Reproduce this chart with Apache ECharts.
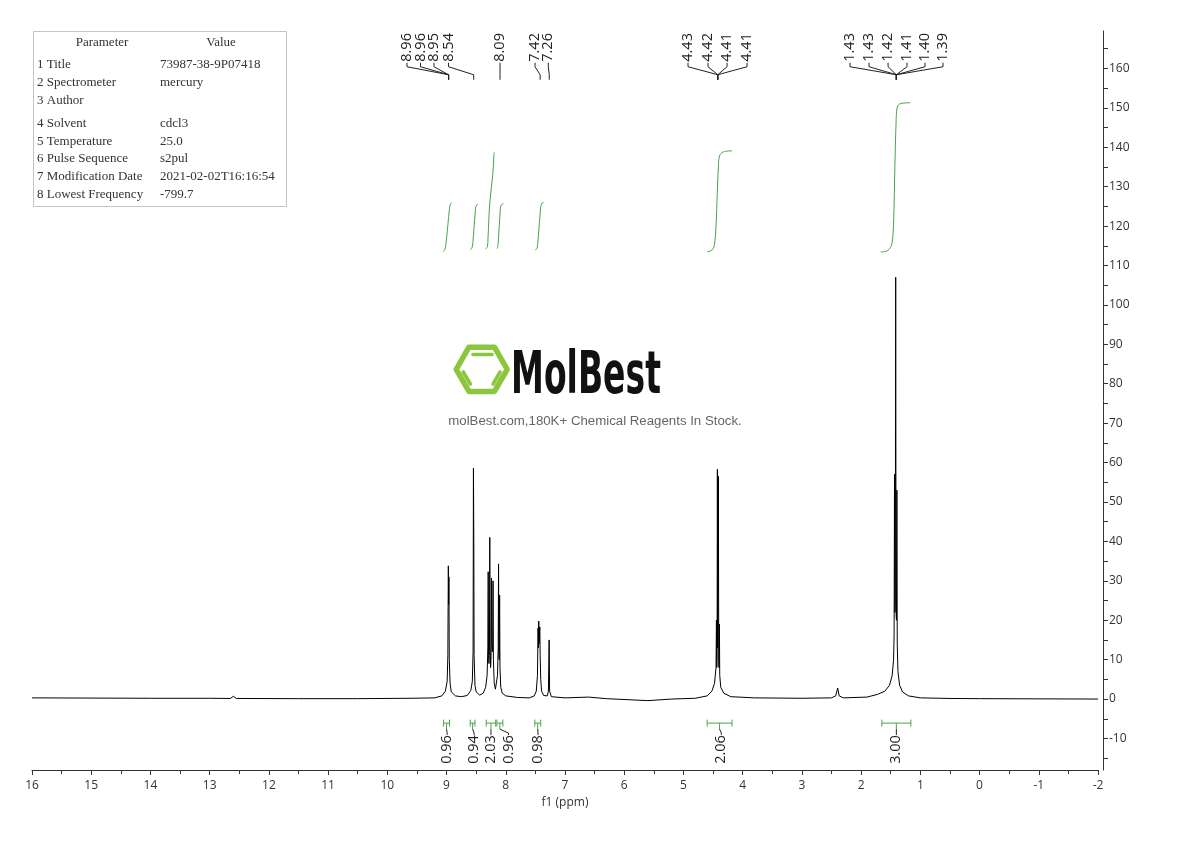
<!DOCTYPE html>
<html><head><meta charset="utf-8">
<script src="https://cdn.jsdelivr.net/npm/echarts@6/dist/echarts.min.js"></script>
<style>html,body{margin:0;padding:0;background:#fff}#c{width:1190px;height:841px}</style>
</head><body><div id="c"></div>
<script>
// ---------------- DATA ----------------
const spectrum = [
[16.00,0.3],[15.0,0.25],[14.0,0.2],[13.0,0.2],[12.65,0.15],[12.6,0.7],[12.55,0.15],[11.5,0.1],[10.5,0.1],[9.6,0.2],[9.2,0.3],
[9.08,0.8],[9.02,2.0],[8.99,4.5],[8.978,11],[8.970,33.8],[8.965,24],[8.960,31],[8.954,10],[8.94,4],[8.92,1.8],[8.85,0.8],[8.75,0.6],
[8.65,0.9],[8.59,2.2],[8.565,4.5],[8.552,12],[8.546,58.6],[8.54,40],[8.535,11],[8.52,3.5],[8.50,1.8],[8.44,1.0],[8.38,1.5],
[8.34,3.0],[8.315,6],[8.303,13],[8.297,32.3],[8.291,11],[8.284,9],[8.276,12],[8.27,41],[8.264,13],[8.256,8],[8.248,11],[8.242,30.7],
[8.236,14],[8.228,12],[8.221,14],[8.215,30.0],[8.209,10],[8.195,4],[8.175,2.5],[8.155,2.8],[8.14,6],[8.128,13],[8.122,34.3],
[8.116,11],[8.11,10],[8.104,26.4],[8.098,8],[8.085,3],[8.06,1.5],[8.0,0.8],[7.8,0.4],[7.6,0.3],[7.52,0.8],[7.485,2],[7.465,6],
[7.455,18],[7.449,13],[7.443,19.8],[7.437,14],[7.431,17],[7.425,18.3],[7.419,11],[7.41,5],[7.395,2],[7.36,0.9],[7.30,0.8],
[7.28,2.0],[7.268,15],[7.26,2.0],[7.23,0.6],[7.0,0.3],[6.6,0.5],[6.3,0.1],[5.6,-0.4],[5.2,0.0],[4.8,0.2],[4.6,0.8],[4.52,2.0],
[4.475,4],[4.45,8],[4.443,20],[4.437,8],[4.432,11],[4.427,58.3],[4.421,13],[4.416,13],[4.41,56.5],[4.404,9],[4.399,8],[4.393,19],
[4.387,6],[4.37,3],[4.32,1.5],[4.2,0.6],[3.8,0.3],[3.0,0.2],[2.5,0.3],[2.43,0.8],[2.395,2.8],[2.37,0.8],[2.3,0.3],[1.9,0.5],
[1.72,1.2],[1.6,2.0],[1.52,3.5],[1.475,6],[1.452,10],[1.443,16],[1.436,57],[1.43,22],[1.423,24],[1.416,107],[1.41,22],[1.403,20],
[1.396,53],[1.39,14],[1.378,7],[1.35,3.5],[1.30,1.8],[1.2,0.8],[1.0,0.3],[0.5,0.15],[0.0,0.1],[-1.0,0.05],[-2.0,0.0]
];

const integralCurves = [
  [[9.06,113.6],[9.03,114.0],[9.01,115.5],[8.95,124.5],[8.935,125.6],[8.91,125.9]],
  [[8.60,114.0],[8.57,114.5],[8.555,116],[8.51,124.5],[8.495,125.3],[8.47,125.5]],
  [[8.34,114.2],[8.31,114.8],[8.30,117],[8.27,126],[8.22,133],[8.20,138.0],[8.195,138.7]],
  [[8.15,114.3],[8.135,114.8],[8.125,116.5],[8.09,124.5],[8.075,125.4],[8.04,125.7]],
  [[7.50,113.9],[7.47,114.5],[7.455,116.5],[7.41,124.8],[7.39,125.8],[7.36,126.0]],
  [[4.60,113.5],[4.52,113.9],[4.48,115],[4.45,120],[4.43,128],[4.41,135],[4.39,137.8],[4.33,138.8],[4.18,139.1]],
  [[1.67,113.4],[1.55,113.8],[1.48,115.5],[1.45,122],[1.43,135],[1.41,146],[1.39,150.2],[1.33,151.1],[1.17,151.3]]
];

const peakLabels  = ['8.96','8.96','8.95','8.54','8.09','7.42','7.26','4.43','4.42','4.41','4.41','1.43','1.43','1.42','1.41','1.40','1.39'];
const peakTargets = [8.965,8.965,8.965,8.542,8.097,7.42,7.266,4.42,4.42,4.42,4.42,1.405,1.405,1.405,1.405,1.405,1.405];
const peakLabelAnchors = [9.668,9.440,9.212,8.967,8.097,7.506,7.282,4.923,4.585,4.264,3.926,2.187,1.866,1.545,1.225,0.921,0.617];

const integralValues = ['0.96','0.94','2.03','0.96','0.98','2.06','3.00'];
const integralRanges = [[9.05,8.95],[8.60,8.52],[8.33,8.17],[8.15,8.05],[7.51,7.41],[4.60,4.18],[1.65,1.16]];
const integralLabelAnchors = [8.99,8.535,8.25,7.954,7.456,4.36,1.405];

const yTickValues = [-15,-10,-5,0,5,10,15,20,25,30,35,40,45,50,55,60,65,70,75,80,85,90,95,100,105,110,115,120,125,130,135,140,145,150,155,160,165];
const yLabelValues = [-10,0,10,20,30,40,50,60,70,80,90,100,110,120,130,140,150,160];

const paramNames  = ['1 Title','2 Spectrometer','3 Author','4 Solvent','5 Temperature','6 Pulse Sequence','7 Modification Date','8 Lowest Frequency'];
const paramValues = ['73987-38-9P07418','mercury','','cdcl3','25.0','s2pul','2021-02-02T16:16:54','-799.7'];

// ---------------- LAYOUT / STYLE ----------------
const GREEN = '#4aa34a';
const TXT = '#222';
const LABEL_FONT = '14.5px "Open Sans"';
const PEAK_LABEL_Y = 161.7;   // value level of label bottoms
const BRACKET_Y = -6.1;       // value level of integral brackets

const chart = echarts.init(document.getElementById('c'));

const rowY = [65, 83, 101, 123.5, 141.3, 159, 176.8, 194.6];
const tableFont = '13px "Liberation Serif"';
const graphics = [
  {type:'rect', shape:{x:33.5,y:31.5,width:253,height:175}, style:{fill:'#fff', stroke:'#c4c4c4', lineWidth:1}, z:10},
  {type:'text', x:102, y:43, style:{text:'Parameter', font:tableFont, fill:'#333', align:'center', verticalAlign:'middle'}, z:11},
  {type:'text', x:221, y:43, style:{text:'Value', font:tableFont, fill:'#333', align:'center', verticalAlign:'middle'}, z:11}
];
paramNames.forEach((n,i)=>{
  graphics.push({type:'text', x:37, y:rowY[i], style:{text:n, font:tableFont, fill:'#333', align:'left', verticalAlign:'middle'}, z:11});
  graphics.push({type:'text', x:160, y:rowY[i], style:{text:paramValues[i], font:tableFont, fill:'#333', align:'left', verticalAlign:'middle'}, z:11});
});
// watermark logo
const hx = 481.7, hy = 369.3, hr = 25.5;
const hexPts = [];
for (let k=0;k<6;k++){ const a = k*Math.PI/3; hexPts.push([hx+hr*Math.cos(a), hy+hr*Math.sin(a)]); }
graphics.push({type:'polygon', shape:{points:hexPts}, style:{fill:null, stroke:'#8cc63f', lineWidth:5.5, lineJoin:'round'}, z:1});
graphics.push({type:'line', shape:{x1:473,y1:354.5,x2:492,y2:354.5}, style:{stroke:'#8cc63f', lineWidth:3.6, lineCap:'round'}, z:1});
graphics.push({type:'line', shape:{x1:463.3,y1:372,x2:470.3,y2:384}, style:{stroke:'#8cc63f', lineWidth:3.6, lineCap:'round'}, z:1});
graphics.push({type:'line', shape:{x1:500.1,y1:372,x2:493.1,y2:384}, style:{stroke:'#8cc63f', lineWidth:3.6, lineCap:'round'}, z:1});
graphics.push({type:'text', x:511, y:378, scaleX:0.59, scaleY:1.04, style:{text:'MolBest', font:'bold 56px "DejaVu Sans"', fill:'#111', align:'left', verticalAlign:'middle'}, z:1});
graphics.push({type:'text', x:595, y:421, style:{text:'molBest.com,180K+ Chemical Reagents In Stock.', font:'13.25px "Liberation Sans"', fill:'#666', align:'center', verticalAlign:'middle'}, z:1});

const series = [];
series.push({
  type:'line', data: spectrum, showSymbol:false, symbol:'none', animation:false,
  lineStyle:{color:'#000', width:1}, z:5, silent:true
});
integralCurves.forEach(c=>{
  series.push({type:'line', data:c, showSymbol:false, symbol:'none', smooth:0.35, animation:false,
    lineStyle:{color:GREEN, width:1}, z:4, silent:true});
});
series.push({
  type:'custom', coordinateSystem:'cartesian2d', animation:false, silent:true, clip:false, z:6,
  data: peakLabels.map((t,i)=>[peakLabelAnchors[i], PEAK_LABEL_Y]),
  renderItem:(params, api)=>{
    const i = params.dataIndex;
    const lx = api.coord([peakLabelAnchors[i], 0])[0];
    const tx = api.coord([peakTargets[i], 0])[0];
    const yb = api.coord([0, PEAK_LABEL_Y])[1];
    return {type:'group', children:[
      {type:'text', x:lx, y:yb, rotation:Math.PI/2,
        style:{text:peakLabels[i], font:LABEL_FONT, fill:TXT, align:'left', verticalAlign:'middle'}},
      {type:'polyline', shape:{points:[[lx,yb+1],[lx,yb+5],[tx,yb+13],[tx,yb+18]]},
        style:{stroke:'#222', lineWidth:1, fill:null}}
    ]};
  }
});
series.push({
  type:'custom', coordinateSystem:'cartesian2d', animation:false, silent:true, clip:false, z:6,
  data: integralValues.map((t,i)=>[integralLabelAnchors[i], BRACKET_Y]),
  renderItem:(params, api)=>{
    const i = params.dataIndex;
    const x1 = api.coord([integralRanges[i][0], 0])[0];
    const x2 = api.coord([integralRanges[i][1], 0])[0];
    const yb = api.coord([0, BRACKET_Y])[1];
    const cx = (x1+x2)/2;
    const ax = api.coord([integralLabelAnchors[i], 0])[0];
    return {type:'group', children:[
      {type:'line', shape:{x1:x1,y1:yb,x2:x2,y2:yb}, style:{stroke:GREEN, lineWidth:1}},
      {type:'line', shape:{x1:x1,y1:yb-3.5,x2:x1,y2:yb+3.5}, style:{stroke:GREEN, lineWidth:1}},
      {type:'line', shape:{x1:x2,y1:yb-3.5,x2:x2,y2:yb+3.5}, style:{stroke:GREEN, lineWidth:1}},
      {type:'line', shape:{x1:cx,y1:yb,x2:cx,y2:yb+6}, style:{stroke:GREEN, lineWidth:1}},
      {type:'polyline', shape:{points:[[cx,yb+6],[ax,yb+10],[ax,yb+12]]}, style:{stroke:'#222', lineWidth:1, fill:null}},
      {type:'text', x:ax, y:yb+12, rotation:Math.PI/2,
        style:{text:integralValues[i], font:LABEL_FONT, fill:TXT, align:'right', verticalAlign:'middle'}}
    ]};
  }
});

chart.setOption({
  animation:false,
  backgroundColor:'#fff',
  grid:{left:32, right:92, top:31, bottom:71, containLabel:false, outerBoundsMode:'none'},
  xAxis:{
    type:'value', min:-2, max:16, interval:1, inverse:true,
    axisLine:{show:true, onZero:false, lineStyle:{color:'#333', width:1}},
    axisTick:{show:true, length:5, lineStyle:{color:'#333'}},
    minorTick:{show:true, splitNumber:2, length:4, lineStyle:{color:'#333'}},
    axisLabel:{color:'#333', fontSize:12, fontFamily:'Open Sans', margin:10},
    splitLine:{show:false}, minorSplitLine:{show:false},
    name:'f1 (ppm)', nameLocation:'middle', nameGap:27,
    nameTextStyle:{color:'#333', fontSize:12, fontFamily:'Open Sans'}
  },
  yAxis:{
    type:'value', min:-18, max:169.5, position:'right', offset:5,
    axisLine:{show:true, onZero:false, lineStyle:{color:'#333', width:1}},
    axisTick:{show:true, length:5, customValues:yTickValues, lineStyle:{color:'#333'}},
    axisLabel:{color:'#333', fontSize:12, fontFamily:'Open Sans', margin:6, customValues:yLabelValues},
    splitLine:{show:false}
  },
  graphic: graphics,
  series: series
});
</script>
</body></html>
